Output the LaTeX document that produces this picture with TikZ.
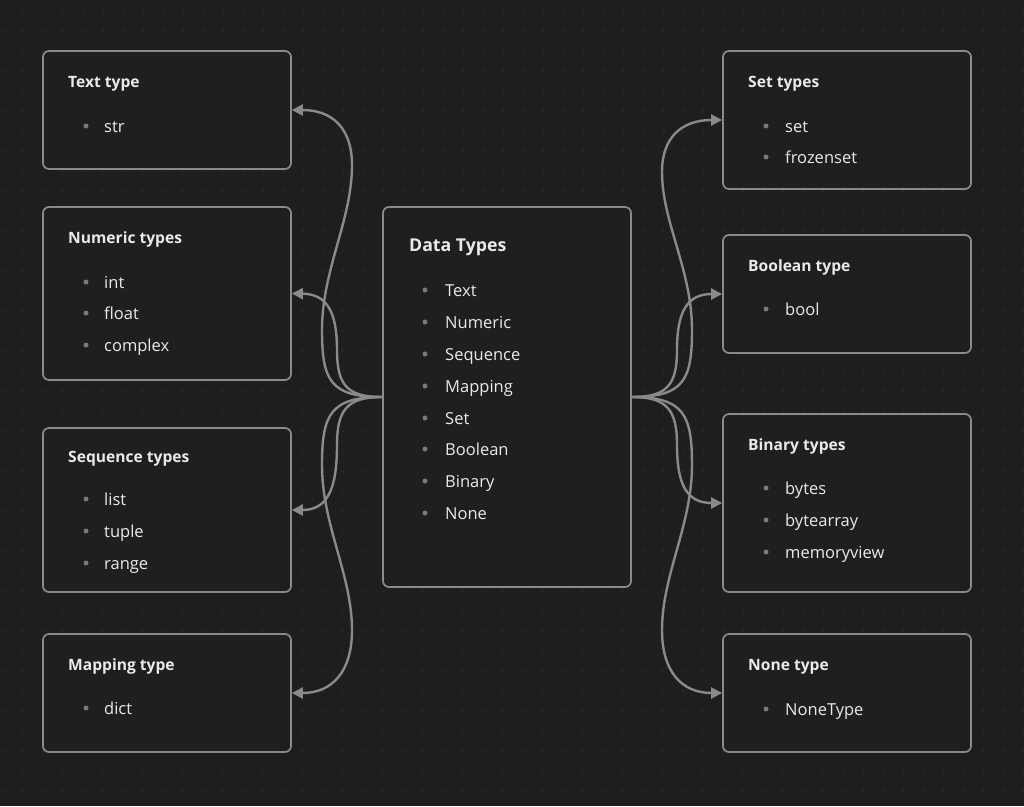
\documentclass[tikz,border=0pt]{standalone}
\usepackage{fontspec}
\setmainfont{Open Sans}
\usetikzlibrary{arrows.meta}
\definecolor{bgc}{HTML}{1E1E1E}
\definecolor{boxfill}{HTML}{1F1F1F}
\definecolor{boxline}{HTML}{8A8A8A}
\definecolor{linec}{HTML}{8A8A8A}
\definecolor{txt}{HTML}{EAEAEA}
\definecolor{dotc}{HTML}{303030}
\definecolor{bulc}{HTML}{7A7A7A}
\tikzset{
  box/.style={draw=boxline, fill=boxfill, line width=1.7pt, rounded corners=6pt, minimum width=248pt, inner sep=0pt},
  ttl/.style={anchor=base west, inner sep=0pt, text=txt, font=\fontsize{15.6}{18}\selectfont\bfseries},
  bigttl/.style={anchor=base west, inner sep=0pt, text=txt, font=\fontsize{17.7}{21}\selectfont\bfseries},
  itm/.style={anchor=base west, inner sep=0pt, text=txt, font=\fontsize{16.5}{19}\selectfont},
  bul/.style={circle, fill=bulc, inner sep=0pt, minimum size=5pt},
  conn/.style={draw=linec, line width=2.4pt, -{Triangle[length=11pt,width=11pt]}},
}
\begin{document}
\begin{tikzpicture}[x=1pt,y=-1pt]
\useasboundingbox (0,0) rectangle (1024,806);
\fill[bgc] (0,0) rectangle (1024,806);
\foreach \i in {0,...,51} {\foreach \j in {0,...,40} {\fill[dotc] (3+20*\i,11+20*\j) circle (1pt);}}

% boxes
\node[box, minimum height=118pt] (text) at (167,110) {};
\node[box, minimum height=173pt] (numeric) at (167,293.5) {};
\node[box, minimum height=164pt] (sequence) at (167,510) {};
\node[box, minimum height=118pt] (mapping) at (167,693) {};
\node[box, minimum height=380pt] (data) at (507,397) {};
\node[box, minimum height=138pt] (set) at (847,120) {};
\node[box, minimum height=118pt] (boolean) at (847,294) {};
\node[box, minimum height=178pt] (binary) at (847,503) {};
\node[box, minimum height=118pt] (none) at (847,693) {};

% titles
\node[ttl] (t1) at (68,87) {Text type};
\node[ttl] (t2) at (68,243) {Numeric types};
\node[ttl] (t3) at (68,462) {Sequence types};
\node[ttl] (t4) at (68,670) {Mapping type};
\node[ttl] (t5) at (748,87) {Set types};
\node[ttl] (t6) at (748,271) {Boolean type};
\node[ttl] (t7) at (748,450) {Binary types};
\node[ttl] (t8) at (748,670) {None type};
\node[bigttl] (t0) at (409,251.5) {Data Types};

% items (left/right boxes)
\foreach \n/\y/\s in {a1/126/str, a2/282/int, a3/313/float, a4/345/complex,
  a5/499/list, a6/531/tuple, a7/563/range, a8/708/dict}{
  \node[bul] (b\n) at (86,\y) {};
  \node[itm] (\n) at (104,\y+6) {\s};
}
\foreach \n/\y/\s in {c1/126/set, c2/157/frozenset, c3/309/bool, c4/488/bytes,
  c5/520/bytearray, c6/552/memoryview, c7/709/NoneType}{
  \node[bul] (b\n) at (766,\y) {};
  \node[itm] (\n) at (785,\y+6) {\s};
}
\foreach \n/\y/\s in {d1/290/Text, d2/322/Numeric, d3/354/Sequence, d4/386/Mapping,
  d5/418/Set, d6/449/Boolean, d7/481/Binary, d8/513/None}{
  \node[bul] (b\n) at (425,\y) {};
  \node[itm] (\n) at (445,\y+6) {\s};
}

% connectors left
\draw[conn] (data.west) .. controls (330,397) and (322,380) .. (322,330)
  .. controls (322,270) and (352,220) .. (352,165)
  .. controls (352,128) and (332,110) .. (text.east);
\draw[conn] (data.west) .. controls (347,397) and (337,385) .. (337,350)
  .. controls (337,312) and (327,294) .. (numeric.east);
\draw[conn] (data.west) .. controls (347,397) and (337,410) .. (337,445)
  .. controls (337,490) and (327,510) .. (sequence.east);
\draw[conn] (data.west) .. controls (330,397) and (322,415) .. (322,465)
  .. controls (322,525) and (352,575) .. (352,630)
  .. controls (352,672) and (332,693) .. (mapping.east);
% connectors right
\draw[conn] (data.east) .. controls (684,397) and (692,380) .. (692,330)
  .. controls (692,270) and (662,222) .. (662,172)
  .. controls (662,137) and (682,120) .. (set.west);
\draw[conn] (data.east) .. controls (667,397) and (677,385) .. (677,350)
  .. controls (677,312) and (687,294) .. (boolean.west);
\draw[conn] (data.east) .. controls (667,397) and (677,410) .. (677,445)
  .. controls (677,485) and (687,503) .. (binary.west);
\draw[conn] (data.east) .. controls (684,397) and (692,415) .. (692,465)
  .. controls (692,525) and (662,575) .. (662,630)
  .. controls (662,672) and (682,693) .. (none.west);
\end{tikzpicture}
\end{document}
